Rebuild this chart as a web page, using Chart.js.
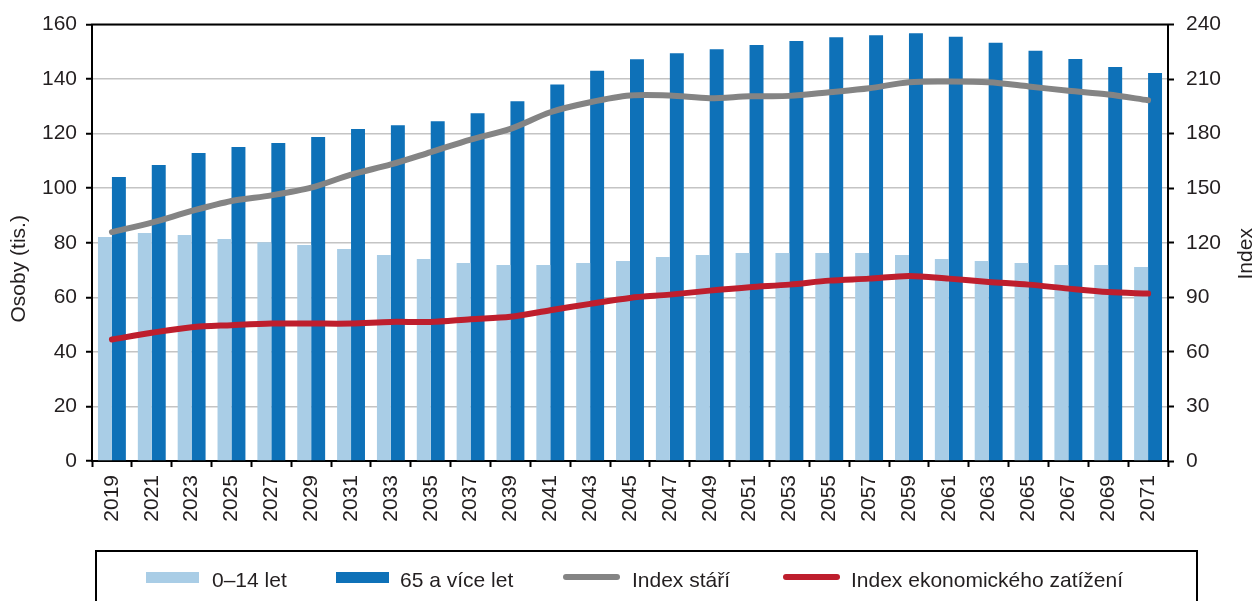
<!DOCTYPE html>
<html>
<head>
<meta charset="utf-8">
<script src="https://cdn.jsdelivr.net/npm/chart.js@4"></script>
<style>
  body { margin: 0; background: #fff; }
  #wrap { position: relative; width: 1259px; height: 601px; overflow: hidden; }
  #legend {
    position: absolute; left: 95px; top: 550px; width: 1103px; height: 70px;
    border: 2px solid #000; box-sizing: border-box;
    font: 21px "Liberation Sans", Arial, sans-serif; color: #231f20;
  }
  .item { position: absolute; top: 17px; height: 21px; line-height: 21px; white-space: nowrap; }
  .sw { position: absolute; }
</style>
</head>
<body>
<div id="wrap">
  <canvas id="chart" width="1259" height="601"></canvas>
  <div id="legend"></div>
</div>
<script>
// === Data ===
const years = ['2019', '2021', '2023', '2025', '2027', '2029', '2031', '2033', '2035', '2037',
  '2039', '2041', '2043', '2045', '2047', '2049', '2051', '2053', '2055', '2057',
  '2059', '2061', '2063', '2065', '2067', '2069', '2071'];

// osoby v tis.
const young = [82.1, 83.6, 82.9, 81.4, 80.2, 79.2, 77.7, 75.5, 74.1, 72.6,
  71.9, 71.9, 72.6, 73.3, 74.8, 75.5, 76.3, 76.3, 76.3, 76.3,
  75.5, 74.1, 73.3, 72.6, 71.9, 71.9, 71.1];
const old = [104.1, 108.5, 112.9, 115.1, 116.6, 118.8, 121.7, 123.1, 124.6, 127.5,
  131.9, 138.0, 143.1, 147.3, 149.5, 151.0, 152.5, 154.0, 155.4, 156.1,
  156.8, 155.5, 153.3, 150.4, 147.4, 144.5, 142.3];

// indexy (prava osa)
const ageIndex = [125.9, 131.1, 137.5, 143.0, 146.1, 150.3, 157.5, 163.1, 169.9, 176.8,
  182.7, 191.8, 197.3, 201.0, 201.0, 199.5, 200.6, 200.8, 202.8, 205.0,
  208.3, 208.7, 208.3, 206.0, 203.6, 201.6, 198.4];
const econIndex = [66.8, 70.5, 73.6, 74.7, 75.6, 75.6, 75.6, 76.5, 76.5, 78.0,
  79.3, 82.9, 86.4, 89.7, 91.5, 93.7, 95.6, 97.0, 99.2, 100.3,
  101.8, 100.3, 98.5, 97.0, 94.8, 92.9, 92.1];

const seriesNames = ['0–14 let', '65 a více let', 'Index stáří', 'Index ekonomického zatížení'];
const leftTitle = 'Osoby (tis.)';
const rightTitle = 'Index';

// === Colors ===
const LIGHT = '#a9cde6';
const DARK = '#0e71b8';
const GRAY = '#848484';
const RED = '#be1e2d';
const TEXT = '#231f20';
const FONT = '"Liberation Sans", Arial, sans-serif';

Chart.defaults.font.family = FONT;
Chart.defaults.font.size = 21;
Chart.defaults.color = TEXT;

// axis titles + top frame line
const extras = {
  id: 'extras',
  afterDraw(chart) {
    const { ctx, chartArea: a } = chart;
    ctx.save();
    ctx.strokeStyle = '#000';
    ctx.lineWidth = 2;
    ctx.beginPath();
    ctx.moveTo(a.left - 1, a.top);
    ctx.lineTo(a.right + 1, a.top);
    ctx.stroke();
    ctx.restore();

    const mid = (a.top + a.bottom) / 2;
    const title = (text, x, y) => {
      ctx.save();
      ctx.fillStyle = TEXT;
      ctx.font = '21px ' + FONT;
      ctx.textAlign = 'center';
      ctx.textBaseline = 'middle';
      ctx.translate(x, y);
      ctx.rotate(-Math.PI / 2);
      ctx.fillText(text, 0, 0);
      ctx.restore();
    };
    title(leftTitle, 19, mid + 26);
    title(rightTitle, 1246, mid + 11);
  }
};

new Chart(document.getElementById('chart'), {
  type: 'bar',
  data: {
    labels: years,
    datasets: [
      { type: 'bar', label: seriesNames[0], data: young, backgroundColor: LIGHT, yAxisID: 'y', order: 2,
        categoryPercentage: 0.7, barPercentage: 1.0 },
      { type: 'bar', label: seriesNames[1], data: old, backgroundColor: DARK, yAxisID: 'y', order: 2,
        categoryPercentage: 0.7, barPercentage: 1.0 },
      { type: 'line', label: seriesNames[2], data: ageIndex, borderColor: GRAY, borderWidth: 6,
        borderCapStyle: 'round', pointRadius: 0, tension: 0.3, yAxisID: 'y1', order: 1 },
      { type: 'line', label: seriesNames[3], data: econIndex, borderColor: RED, borderWidth: 6,
        borderCapStyle: 'round', pointRadius: 0, tension: 0.3, yAxisID: 'y1', order: 1 }
    ]
  },
  options: {
    responsive: false,
    devicePixelRatio: 1,
    animation: false,
    layout: { padding: { top: 24, left: 0, right: 0, bottom: 0 } },
    plugins: { legend: { display: false }, tooltip: { enabled: false } },
    scales: {
      x: {
        z: 1,
        offset: true,
        grid: { offset: true, drawOnChartArea: false, drawTicks: true, tickLength: 6, tickColor: '#000', tickWidth: 2 },
        border: { color: '#000', width: 2 },
        ticks: { autoSkip: false, minRotation: 90, maxRotation: 90, padding: 8, color: TEXT },
        afterFit(scale) { scale.height = 140; }
      },
      y: {
        position: 'left',
        min: 0, max: 160,
        ticks: { stepSize: 20, padding: 9, color: TEXT },
        grid: { color: '#c4c4c4', lineWidth: 1.5, tickColor: '#000', tickLength: 6, tickWidth: 2 },
        border: { color: '#000', width: 2 },
        afterFit(scale) { scale.width = 92; }
      },
      y1: {
        position: 'right',
        min: 0, max: 240,
        ticks: { stepSize: 30, padding: 12, color: TEXT },
        grid: { drawOnChartArea: false, tickColor: '#000', tickLength: 6, tickWidth: 2 },
        border: { color: '#000', width: 2 },
        afterFit(scale) { scale.width = 91; }
      }
    }
  },
  plugins: [extras]
});

// === Legend (HTML) ===
const legendItems = [
  { name: seriesNames[0], color: LIGHT, kind: 'box', left: 49, gap: 66 },
  { name: seriesNames[1], color: DARK, kind: 'box', left: 239, gap: 64 },
  { name: seriesNames[2], color: GRAY, kind: 'line', left: 466, gap: 69 },
  { name: seriesNames[3], color: RED, kind: 'line', left: 686, gap: 68 }
];
const legend = document.getElementById('legend');
legendItems.forEach(it => {
  const d = document.createElement('div');
  d.className = 'item';
  d.style.left = it.left + 'px';
  const sw = document.createElement('span');
  sw.className = 'sw';
  sw.style.left = '0px';
  sw.style.width = (it.kind === 'box' ? 53 : 57) + 'px';
  sw.style.background = it.color;
  if (it.kind === 'box') {
    sw.style.top = '3px'; sw.style.height = '11px';
  } else {
    sw.style.top = '5px'; sw.style.height = '6px'; sw.style.borderRadius = '3px';
  }
  d.appendChild(sw);
  const t = document.createElement('span');
  t.textContent = it.name;
  t.style.marginLeft = it.gap + 'px';
  d.appendChild(t);
  legend.appendChild(d);
});
</script>
</body>
</html>
